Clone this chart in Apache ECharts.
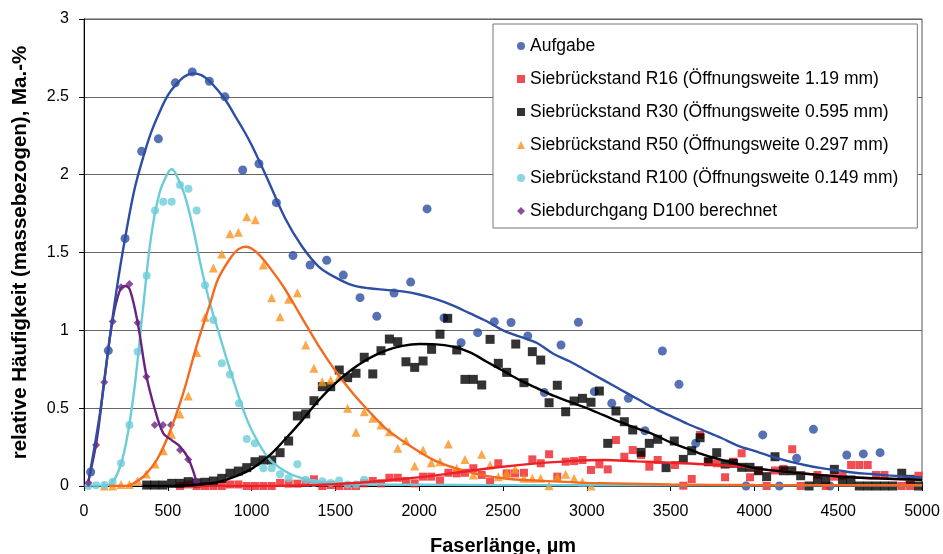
<!DOCTYPE html>
<html>
<head>
<meta charset="utf-8">
<script src="https://cdn.jsdelivr.net/npm/echarts@6/dist/echarts.min.js"></script>
<style>
  html, body { margin: 0; padding: 0; background: #fff; }
  #chart { width: 943px; height: 554px; }
</style>
</head>
<body>
<div id="chart"></div>
<script>
// measured points (x = Faserlänge in µm, y = Ma.-%)
const aufgabe = [[40,0.09],[145,0.87],[245,1.59],[344,2.15],[444,2.23],[545,2.59],[646,2.66],[748,2.60],[841,2.50],
  [947,2.03],[1044,2.07],[1148,1.82],[1247,1.48],[1349,1.42],[1448,1.45],[1547,1.355],[1647,1.21],[1747,1.09],
  [1850,1.24],[1949,1.31],[2047,1.78],[2148,1.08],[2250,0.92],[2349,0.985],[2448,1.055],[2548,1.05],[2648,0.964],
  [2747,0.60],[2846,0.906],[2950,1.052],[3045,0.606],[3149,0.531],[3248,0.563],[3347,0.355],[3451,0.867],[3550,0.653],
  [3650,0.274],[3950,0.0],[4050,0.328],[4149,0.0],[4252,0.178],[4352,0.364],[4451,0.0],[4551,0.199],[4650,0.206],[4750,0.214]];

const r16 = [[573,0.0],[622,0.01],[672,0.0],[722,0.0],[772,0.0],[822,0.0],[871,0.01],[921,0.01],[971,0.0],[1020,0.0],
  [1070,0.0],[1120,0.0],[1170,0.02],[1221,0.015],[1273,0.015],[1323,0.021],[1372,0.043],[1422,0.0],[1472,0.006],
  [1522,0.0],[1573,0.0],[1623,0.0],[1672,0.017],[1723,0.032],[1772,0.017],[1822,0.053],[1872,0.053],[1921,0.032],
  [1973,0.017],[2023,0.06],[2072,0.06],[2124,0.036],[2174,0.085],[2224,0.081],[2273,0.085],[2323,0.114],[2373,0.071],
  [2423,0.028],[2472,0.146],[2522,0.081],[2572,0.081],[2625,0.085],[2675,0.171],[2725,0.146],[2775,0.204],[2824,0.06],
  [2874,0.156],[2924,0.16],[2974,0.167],[3025,0.103],[3075,0.139],[3125,0.107],[3174,0.295],[3224,0.188],[3274,0.231],
  [3324,0.199],[3373,0.124],[3423,0.167],[3526,0.135],[3576,0.002],[3626,0.045],[3676,0.328],[3725,0.156],[3775,0.146],
  [3825,0.056],[3874,0.156],[3924,0.21],[3974,0.056],[4024,0.10],[4073,0.0],[4123,0.10],[4173,0.11],[4226,0.236],
  [4276,0.0],[4376,0.071],[4426,0.0],[4477,0.06],[4526,0.066],[4577,0.135],[4626,0.135],[4676,0.135],[4726,0.071],
  [4776,0.071],[4879,0.0],[4929,0.0],[4979,0.066]];

const r30 = [[374,0.006],[422,0.006],[471,0.006],[523,0.017],[573,0.017],[622,0.028],[672,0.02],[722,0.024],[772,0.032],
  [822,0.049],[871,0.082],[921,0.096],[971,0.118],[1020,0.156],[1070,0.167],[1120,0.167],[1170,0.214],[1221,0.289],
  [1273,0.45],[1323,0.463],[1372,0.548],[1422,0.638],[1472,0.638],[1523,0.745],[1573,0.696],[1623,0.724],[1672,0.827],
  [1723,0.72],[1772,0.869],[1822,0.944],[1872,0.927],[1921,0.798],[1973,0.762],[2023,0.803],[2074,0.878],[2124,0.975],
  [2170,1.077],[2224,0.874],[2273,0.685],[2323,0.685],[2373,0.649],[2423,0.942],[2472,0.788],[2522,0.73],[2576,0.912],
  [2625,0.664],[2675,0.863],[2725,0.809],[2775,0.535],[2824,0.647],[2874,0.477],[2924,0.546],[2974,0.563],[3025,0.538],
  [3075,0.61],[3125,0.274],[3174,0.482],[3224,0.413],[3274,0.36],[3324,0.216],[3373,0.274],[3423,0.30],[3473,0.118],
  [3522,0.289],[3576,0.171],[3626,0.227],[3676,0.31],[3725,0.156],[3775,0.214],[3825,0.141],[3875,0.146],[3924,0.12],
  [3974,0.12],[4024,0.098],[4073,0.06],[4123,0.188],[4173,0.098],[4223,0.098],[4276,0.066],[4326,0.0],[4376,0.039],
  [4426,0.039],[4477,0.107],[4526,0.039],[4576,0.039],[4626,0.0],[4676,0.0],[4726,0.0],[4776,0.0],[4826,0.0],
  [4879,0.082],[4929,0.043],[4979,0.0]];

const r50 = [[121,0.0],[171,0.0],[221,0.01],[271,0.01],[320,0.034],[372,0.077],[424,0.141],[473,0.227],[523,0.332],
  [573,0.463],[622,0.578],[672,0.857],[722,1.084],[772,1.40],[822,1.49],[871,1.62],[921,1.63],[971,1.73],[1022,1.71],
  [1070,1.42],[1120,1.21],[1170,1.088],[1221,1.20],[1273,1.242],[1323,0.906],[1372,0.756],[1422,0.67],[1472,0.681],
  [1522,0.702],[1573,0.499],[1623,0.345],[1672,0.477],[1723,0.435],[1772,0.392],[1822,0.349],[1872,0.242],[1921,0.291],
  [1973,0.128],[2023,0.231],[2072,0.15],[2124,0.156],[2174,0.27],[2224,0.114],[2273,0.171],[2323,0.071],[2373,0.204],
  [2423,0.135],[2472,0.06],[2522,0.085],[2572,0.107],[2625,0.049],[2675,0.049],[2725,0.049],[2775,0.002],[2824,0.06],
  [2874,0.075],[2924,0.05],[2974,0.025],[3025,0.0]];

const r100 = [[26,0.0],[72,0.005],[121,0.006],[171,0.028],[221,0.146],[271,0.392],[320,0.863],[374,1.35],[424,1.77],
  [473,1.826],[523,1.826],[573,1.934],[623,1.91],[672,1.77],[722,1.29],[772,1.066],[822,0.788],[871,0.717],[925,0.531],
  [971,0.302],[1020,0.274],[1070,0.114],[1120,0.114],[1170,0.075],[1221,0.049],[1273,0.139],[1323,0.04],[1372,0.02],
  [1422,0.03],[1472,0.02],[1522,0.035],[1573,0.01],[1623,0.01],[1672,0.04]];

const d100 = [[26,0.021],[72,0.263],[121,0.666],[171,1.056],[221,1.276],[271,1.298],[320,1.049],[372,0.702],[422,0.392],
  [471,0.392],[519,0.392],[573,0.231],[622,0.171],[672,0.028]];

// fitted curves
const fitAufgabeX = [30,100,150,200,250,300,350,400,450,500,550,600,650,700,750,800,850,900,950,1000,1100,1200,1300,1400,
  1500,1600,1700,1800,1900,2000,2100,2200,2300,2400,2500,2600,2700,2800,2900,3000,3100,3200,3300,3400,3500,3600,3700,
  3800,3900,4000,4100,4200,4300,4400,4500,4600,4700,4800,4900,5000];
const fitAufgabeY = [0.05,0.5,0.92,1.3,1.62,1.9,2.1,2.27,2.4,2.51,2.58,2.63,2.65,2.64,2.6,2.54,2.47,2.38,2.29,2.19,1.96,
  1.72,1.54,1.41,1.34,1.29,1.27,1.26,1.25,1.23,1.2,1.16,1.11,1.06,1.0,0.96,0.92,0.85,0.8,0.74,0.68,0.62,0.56,0.5,0.45,
  0.4,0.355,0.31,0.26,0.225,0.19,0.16,0.135,0.115,0.1,0.085,0.077,0.068,0.06,0.055];

const fitR16X = [600,900,1200,1500,1700,1900,2100,2300,2500,2700,2900,3100,3300,3500,3700,3900,4100,4300,4500,4700,5000];
const fitR16Y = [0.0,0.0,0.002,0.012,0.026,0.045,0.068,0.098,0.124,0.145,0.16,0.167,0.158,0.15,0.14,0.126,0.1,0.08,0.062,0.05,0.04];

const fitR30X = [350,500,700,800,900,1000,1100,1200,1300,1400,1500,1600,1700,1800,1900,2000,2100,2200,2300,2400,2500,
  2600,2700,2800,2900,3000,3100,3200,3300,3400,3500,3600,3700,3800,3900,4000,4200,4400,4600,4800,5000];
const fitR30Y = [0.0,0.0,0.01,0.025,0.06,0.11,0.19,0.3,0.42,0.55,0.66,0.75,0.82,0.87,0.9,0.912,0.91,0.895,0.86,0.8,0.74,
  0.68,0.63,0.58,0.54,0.5,0.455,0.41,0.37,0.33,0.28,0.24,0.2,0.17,0.14,0.115,0.09,0.07,0.055,0.047,0.04];

const fitR50X = [150,250,300,354,434,513,593,672,752,800,871,920,967,1000,1050,1110,1190,1290,1400,1500,1600,1700,1800,
  1900,2000,2100,2200,2300,2400,2500,2600,2800,3000,3500,4000,5000];
const fitR50Y = [0.0,0.0,0.02,0.06,0.167,0.35,0.6,0.9,1.17,1.33,1.46,1.52,1.537,1.525,1.48,1.4,1.28,1.1,0.9,0.74,0.6,
  0.48,0.37,0.29,0.22,0.16,0.12,0.09,0.065,0.05,0.04,0.03,0.02,0.01,0.006,0.005];

const fitR100X = [100,150,200,250,300,350,400,450,500,525,550,600,650,700,750,800,850,900,950,1000,1100,1200,1300,1400,
  1500,1700,2000,3000,5000];
const fitR100Y = [0.0,0.01,0.08,0.27,0.62,1.12,1.6,1.88,2.01,2.035,2.0,1.87,1.66,1.4,1.18,1.0,0.82,0.65,0.49,0.36,0.18,
  0.095,0.05,0.03,0.02,0.012,0.008,0.005,0.005];

const fitD100X = [26,76,121,171,215,245,274,320,372,424,473,523,573,622,668];
const fitD100Y = [0.03,0.295,0.68,1.07,1.26,1.285,1.26,1.05,0.71,0.488,0.338,0.295,0.253,0.178,0.039];

const xTicks = [0, 5000, 500];
const yTicks = [0, 3, 0.5];

const zip = (xs, ys) => xs.map((x, i) => [x, ys[i]]);

const FONT = 'Liberation Sans, Arial, sans-serif';

function pts(name, data, symbol, size, color) {
  return {
    name: name, type: 'scatter', data: data, symbol: symbol, symbolSize: size,
    itemStyle: { color: color }, z: 2
  };
}
function fit(xs, ys, color) {
  return {
    type: 'line', data: zip(xs, ys), smooth: 0.35, showSymbol: false, symbol: 'none',
    lineStyle: { color: color, width: 2.4 }, silent: true, z: 3
  };
}

const chart = echarts.init(document.getElementById('chart'));
chart.setOption({
  animation: false,
  backgroundColor: '#fff',
  textStyle: { fontFamily: FONT },
  grid: {
    left: 84, right: 21, top: 19, bottom: 68, containLabel: false, outerBoundsMode: 'none',
    show: true, borderColor: '#555', borderWidth: 1
  },
  legend: {
    orient: 'vertical', left: 493, top: 24,
    data: ['Aufgabe', 'Siebrückstand R16 (Öffnungsweite 1.19 mm)', 'Siebrückstand R30 (Öffnungsweite 0.595 mm)',
      'Siebrückstand R50 (Öffnungsweite 0.297 mm)', 'Siebrückstand R100 (Öffnungsweite 0.149 mm)', 'Siebdurchgang D100 berechnet'],
    backgroundColor: '#fff', borderColor: '#777', borderWidth: 1,
    padding: [12, 19, 7, 24], itemGap: 13, itemWidth: 8, itemHeight: 8,
    textStyle: { fontFamily: FONT, fontSize: 17.5, color: '#000', lineHeight: 20 }
  },
  xAxis: {
    type: 'value', min: xTicks[0], max: xTicks[1], interval: xTicks[2],
    name: 'Faserlänge, µm', nameLocation: 'middle', nameGap: 50,
    nameTextStyle: { fontFamily: FONT, fontSize: 20, fontWeight: 'bold', color: '#000' },
    axisLine: { lineStyle: { color: '#000' } },
    axisTick: { show: true, length: 5, lineStyle: { color: '#000' } },
    axisLabel: { fontFamily: FONT, fontSize: 16, color: '#000', margin: 18, formatter: v => String(v) },
    splitLine: { show: false }
  },
  yAxis: {
    type: 'value', min: yTicks[0], max: yTicks[1], interval: yTicks[2],
    name: 'relative Häufigkeit (massebezogen), Ma.-%', nameLocation: 'middle', nameGap: 53,
    nameTextStyle: { fontFamily: FONT, fontSize: 20.5, fontWeight: 'bold', color: '#000' },
    axisLine: { show: true, lineStyle: { color: '#000' } },
    axisTick: { show: true, length: 5, lineStyle: { color: '#000' } },
    axisLabel: { fontFamily: FONT, fontSize: 16, color: '#000', margin: 15 },
    splitLine: { show: true, lineStyle: { color: '#666', width: 1 } }
  },
  series: [
    pts('Aufgabe', aufgabe, 'circle', 9, '#2D4EA2'),
    pts('Siebrückstand R16 (Öffnungsweite 1.19 mm)', r16, 'rect', 8, '#ED2027'),
    pts('Siebrückstand R30 (Öffnungsweite 0.595 mm)', r30, 'rect', 9, '#000'),
    pts('Siebrückstand R50 (Öffnungsweite 0.297 mm)', r50, 'triangle', 9, '#F7931E'),
    pts('Siebrückstand R100 (Öffnungsweite 0.149 mm)', r100, 'circle', 8, '#6DCCD9'),
    pts('Siebdurchgang D100 berechnet', d100, 'diamond', 8, '#6B2380'),
    fit(fitR100X, fitR100Y, '#6DCCD9'),
    fit(fitR50X, fitR50Y, '#F46A1F'),
    fit(fitR16X, fitR16Y, '#ED2027'),
    fit(fitR30X, fitR30Y, '#000'),
    fit(fitD100X, fitD100Y, '#6B2380'),
    fit(fitAufgabeX, fitAufgabeY, '#2D4EA2')
  ]
});
</script>
</body>
</html>
